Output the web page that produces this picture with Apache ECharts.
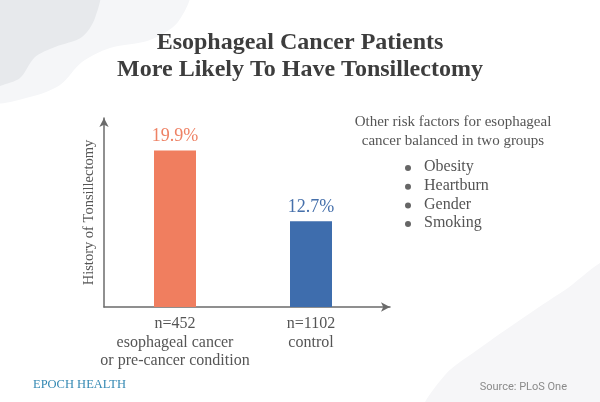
<!DOCTYPE html>
<html>
<head>
<meta charset="utf-8">
<script src="https://cdn.jsdelivr.net/npm/echarts@6/dist/echarts.min.js"></script>
<style>
html,body{margin:0;padding:0;background:#ffffff;}
#chart{width:600px;height:402px;}
</style>
</head>
<body>
<div id="chart"></div>
<script>
// ---- data ----
const titleLines = ['Esophageal Cancer Patients', 'More Likely To Have Tonsillectomy'];
const categories = ['n=452\nesophageal cancer\nor pre-cancer condition', 'n=1102\ncontrol'];
const values = [19.9, 12.7];
const barColors = ['#F07E5F', '#3E6DAD'];
const labelColors = ['#EE8265', '#4670AB'];
const yAxisName = 'History of Tonsillectomy';
const noteLines = ['Other risk factors for esophageal', 'cancer balanced in two groups'];
const riskFactors = ['Obesity', 'Heartburn', 'Gender', 'Smoking'];
const brand = 'EPOCH HEALTH';
const source = 'Source: PLoS One';

const SERIF = '"Liberation Serif", "DejaVu Serif", serif';
const chart = echarts.init(document.getElementById('chart'), null, {renderer: 'canvas'});

const graphics = [
  // decorative background shapes
  {type: 'polygon', z: -10, silent: true,
   shape: {points: [[-10,-10],[188,-10],[178,22],[150,40],[110,48],[82,62],[60,85],[30,97],[-10,100]], smooth: 0.3},
   style: {fill: '#f5f6f8'}},
  {type: 'polygon', z: -9, silent: true,
   shape: {points: [[-10,-10],[98,-10],[95,18],[82,37],[55,47],[35,57],[20,78],[0,86],[-10,90]], smooth: 0.3},
   style: {fill: '#e7e9ec'}},
  {type: 'polygon', z: -10, silent: true,
   shape: {points: [[610,262],[565,290],[520,320],[480,348],[445,375],[425,412],[610,412]], smooth: 0.3},
   style: {fill: '#f6f6f8'}}
];

noteLines.forEach((t, i) => {
  graphics.push({type: 'text', x: 453, y: 122 + i * 19,
    style: {text: t, font: '15px ' + SERIF, fill: '#555555', textAlign: 'center', textVerticalAlign: 'middle'}});
});
riskFactors.forEach((t, i) => {
  const y = 167 + i * 18.7;
  graphics.push({type: 'circle', shape: {cx: 408, cy: y + 1, r: 3}, style: {fill: '#666666'}});
  graphics.push({type: 'text', x: 424, y: y,
    style: {text: t, font: '16px ' + SERIF, fill: '#555555', textAlign: 'left', textVerticalAlign: 'middle'}});
});
graphics.push({type: 'text', x: 33, y: 385,
  style: {text: brand, font: '500 12.5px ' + SERIF, fill: '#3489b3', textAlign: 'left', textVerticalAlign: 'middle'}});
graphics.push({type: 'text', x: 567, y: 387,
  style: {text: source, font: '11px Roboto, sans-serif', fill: '#8a8a8a', textAlign: 'right', textVerticalAlign: 'middle'}});

const axisLineStyle = {color: '#6b6b6b', width: 1.5};

const option = {
  backgroundColor: '#ffffff',
  animation: false,
  title: {
    text: titleLines.join('\n'),
    left: 'center',
    top: 24,
    textStyle: {fontFamily: SERIF, fontWeight: 'bold', fontSize: 24, lineHeight: 27, color: '#3d3d3d'}
  },
  graphic: graphics,
  grid: [
    {left: 107, top: 115, width: 272, height: 192},
    {left: 104, top: 118, width: 286, height: 189}
  ],
  xAxis: [
    {type: 'category', gridIndex: 0, data: categories,
     axisLine: {show: false}, axisTick: {show: false},
     axisLabel: {interval: 0, margin: 8, color: '#555555', fontFamily: SERIF, fontSize: 16, lineHeight: 18.5}},
    {type: 'value', gridIndex: 1, min: 0, max: 1,
     axisLine: {show: true, lineStyle: axisLineStyle, symbol: ['none', 'arrow'], symbolSize: [7, 9]},
     axisTick: {show: false}, axisLabel: {show: false}, splitLine: {show: false}}
  ],
  yAxis: [
    {type: 'value', gridIndex: 0, min: 4, max: 23.5, show: false},
    {type: 'value', gridIndex: 1, min: 0, max: 1,
     name: yAxisName, nameLocation: 'middle', nameGap: 7,
     nameTextStyle: {fontFamily: SERIF, fontSize: 14.5, color: '#555555'},
     axisLine: {show: true, lineStyle: axisLineStyle, symbol: ['none', 'arrow'], symbolSize: [7, 9]},
     axisTick: {show: false}, axisLabel: {show: false}, splitLine: {show: false}}
  ],
  series: [{
    type: 'bar',
    xAxisIndex: 0, yAxisIndex: 0,
    barWidth: 42,
    data: values.map((v, i) => ({value: v, itemStyle: {color: barColors[i]}, label: {color: labelColors[i]}})),
    label: {show: true, position: 'top', distance: 5, formatter: '{c}%', fontFamily: SERIF, fontSize: 18}
  }]
};
chart.setOption(option);
</script>
</body>
</html>
